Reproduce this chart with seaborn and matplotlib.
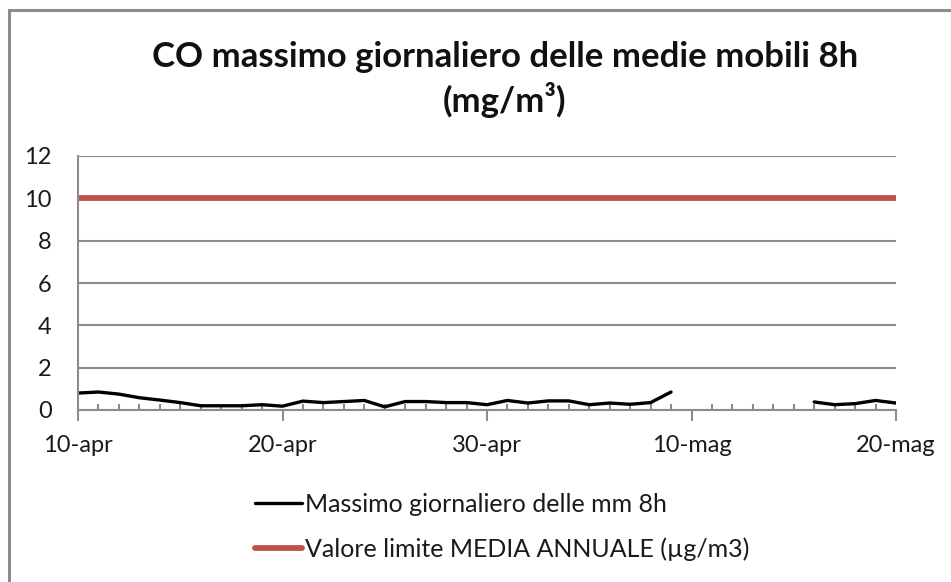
import pandas as pd
import numpy as np
import matplotlib
matplotlib.use('Agg')
import matplotlib.pyplot as plt
import matplotlib.dates as mdates
from matplotlib.lines import Line2D
from matplotlib.patches import Rectangle
import seaborn as sns

# Dati: massimo giornaliero delle medie mobili 8h (mg/m3)
start = '2020-04-10'
giorni_1 = list(range(0, 30))
valori_1 = [0.80, 0.85, 0.75, 0.58, 0.47, 0.35, 0.20, 0.20, 0.20, 0.25,
            0.18, 0.42, 0.35, 0.40, 0.45, 0.15, 0.40, 0.40, 0.35, 0.35,
            0.25, 0.45, 0.33, 0.43, 0.43, 0.25, 0.33, 0.27, 0.35, 0.85]
giorni_2 = [36, 37, 38, 39, 40]
valori_2 = [0.38, 0.25, 0.30, 0.45, 0.33]
valore_limite = 10
tick_giorni = [0, 10, 20, 30, 40]
tick_etichette = ['10-apr', '20-apr', '30-apr', '10-mag', '20-mag']

t0 = pd.Timestamp(start)
df = pd.DataFrame({
    'data': [t0 + pd.Timedelta(days=d) for d in giorni_1 + giorni_2],
    'valore': valori_1 + valori_2,
    'tratto': [1] * len(giorni_1) + [2] * len(giorni_2),
})
df_lim = pd.DataFrame({'data': [t0, t0 + pd.Timedelta(days=40)],
                       'valore': [valore_limite] * 2})

sns.set_style('white')
plt.rcParams['font.family'] = ['Lato', 'DejaVu Sans']

fig = plt.figure(figsize=(9.51, 5.82), dpi=100)
ax = fig.add_axes([78 / 951, 1 - 410 / 582, (896 - 78) / 951, (410 - 156) / 582])

grigio = '#8c8c8c'
rosso = '#c0504d'

sns.lineplot(data=df_lim, x='data', y='valore', color=rosso, lw=4.2, ax=ax,
             solid_capstyle='butt')
sns.lineplot(data=df, x='data', y='valore', units='tratto', estimator=None,
             color='black', lw=2.4, ax=ax)

ax.set_xlim(t0, t0 + pd.Timedelta(days=40))
ax.set_ylim(0, 12)
ax.set_yticks(range(0, 13, 2))
ax.yaxis.grid(True, color=grigio, lw=1.5)
ax.set_axisbelow(True)

ax.set_xticks([t0 + pd.Timedelta(days=d) for d in tick_giorni])
ax.set_xticklabels(tick_etichette)
ax.xaxis.set_minor_locator(mdates.DayLocator())
ax.tick_params(axis='x', which='major', direction='out', length=8, width=1.5,
               color=grigio, pad=10, labelsize=17, labelcolor='#1a1a1a', bottom=True)
ax.tick_params(axis='x', which='minor', direction='in', length=4, width=1.5,
               color=grigio, bottom=True)
ax.tick_params(axis='y', length=0, pad=19, labelsize=17, labelcolor='#1a1a1a')

for s in ['top', 'right']:
    ax.spines[s].set_visible(False)
for s in ['left', 'bottom']:
    ax.spines[s].set_color(grigio)
    ax.spines[s].set_linewidth(1.5)
ax.set_xlabel('')
ax.set_ylabel('')
if ax.get_legend():
    ax.get_legend().remove()

fig.text(505 / 951, 1 - 57 / 582, 'CO massimo giornaliero delle medie mobili 8h',
         ha='center', va='center', fontsize=25, fontweight='bold', color='#111111')
fig.text(505 / 951, 1 - 100 / 582, '(mg/m³)',
         ha='center', va='center', fontsize=25, fontweight='bold', color='#111111')

handles = [Line2D([], [], color='black', lw=2.4),
           Line2D([], [], color=rosso, lw=4.2)]
labels = ['Massimo giornaliero delle mm 8h', 'Valore limite MEDIA ANNUALE (µg/m3)']
fig.legend(handles, labels, loc='center left', bbox_to_anchor=(232 / 951, 1 - 527 / 582),
           frameon=False, fontsize=18, handlelength=1.9, handletextpad=0.12,
           labelspacing=0.85, labelcolor='#1a1a1a')

fig.patches.append(Rectangle((9 / 951, -0.1), 1.2, 1 - 10 / 582 + 0.1,
                             transform=fig.transFigure, fill=False,
                             edgecolor=grigio, lw=2.2))

fig.savefig('out.png', dpi=100)
